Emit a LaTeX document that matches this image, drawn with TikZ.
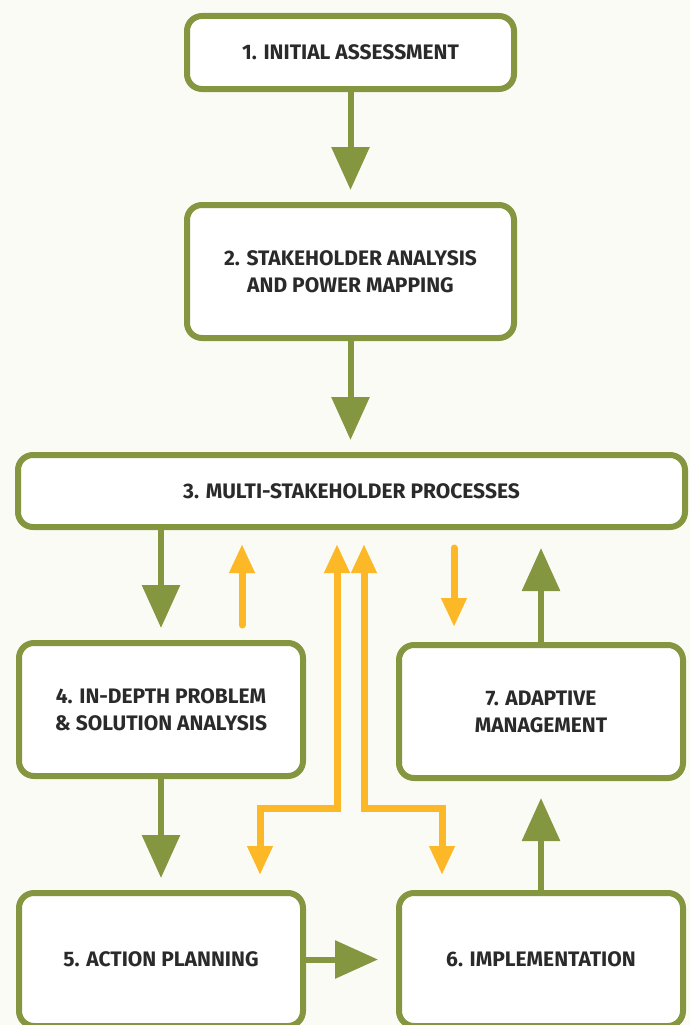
\documentclass[tikz,border=0pt]{standalone}
\usepackage{fontspec}
\setmainfont{Fira Sans}
\usepackage{tikz}
\usetikzlibrary{positioning,calc,arrows.meta}

\definecolor{leafgreen}{HTML}{84963F}
\definecolor{signyellow}{HTML}{FDB827}
\definecolor{paper}{HTML}{FBFBF5}
\definecolor{ink}{HTML}{2A2A2A}

\tikzset{
  stage/.style={draw=leafgreen,line width=6pt,fill=white,rounded corners=15pt,
    text=ink,font=\fontsize{21}{27}\selectfont\bfseries,align=center,inner sep=0pt},
  flow/.style={draw=leafgreen,line width=6pt,-{Triangle[length=43pt,width=37pt]}},
  feedback/.style={draw=signyellow,line width=7pt,line cap=round,-{Triangle[length=29pt,width=24pt]}},
  twoway/.style={draw=signyellow,line width=7pt,miter limit=10,{Triangle[length=29pt,width=24pt]}-{Triangle[length=29pt,width=24pt]}}
}

\begin{document}
\begin{tikzpicture}[x=1pt,y=-1pt]
% page
\fill[paper] (0,0) rectangle (690,1025);
\useasboundingbox (0,0) rectangle (690,1025);
\begin{scope}
\clip (0,0) rectangle (690,1025);
% nodes
\node[stage,minimum width=327pt,minimum height=73pt] (assess) at (350.5,52.5) {1. INITIAL ASSESSMENT};
\node[stage,minimum width=327pt,minimum height=133pt] (stake) [below =110pt of assess] {2. STAKEHOLDER ANALYSIS\\AND POWER MAPPING};
\node[stage,minimum width=667pt,minimum height=72pt] (multi) at (351.5,491) {3. MULTI-STAKEHOLDER PROCESSES};
\node[stage,minimum width=284pt,minimum height=133pt] (problem) at (161,709.5) {4. IN-DEPTH PROBLEM\\\& SOLUTION ANALYSIS};
\node[stage,minimum width=284pt,minimum height=133pt] (plan) [below =111pt of problem] {5. ACTION PLANNING};
\node[stage,minimum width=284pt,minimum height=133pt] (impl) [right =90pt of plan] {6. IMPLEMENTATION};
\node[stage,minimum width=284pt,minimum height=133pt] (adapt) [above =109pt of impl] {7. ADAPTIVE\\MANAGEMENT};
% free ends of the yellow arrows
\coordinate (fb1a) at (242,625);
\coordinate (fb1b) at (242,544);
\coordinate (fb2a) at (454,548);
\coordinate (fb2b) at (454,627);
\coordinate (twl) at (337,544);
\coordinate (twlb) at (260,875);
\coordinate (twr) at (364,544);
\coordinate (twrb) at (442,875);
% the arrows
\draw[flow,shorten >=12pt] (assess.south) -- (stake.north);
\draw[flow,shorten >=12pt] (stake.south) -- (stake.south |- multi.north);
\draw[flow,shorten >=12pt] (problem.north |- multi.south) -- (problem.north);
\draw[flow,shorten >=12pt] (problem.south) -- (plan.north);
\draw[flow,shorten >=18pt] (plan.east) -- (impl.west);
\draw[flow,shorten >=17pt] (impl.north) -- (adapt.south);
\draw[flow,shorten >=18pt] (adapt.north) -- (adapt.north |- multi.south);
\draw[feedback] (fb1a) -- (fb1b);
\draw[feedback] (fb2a) -- (fb2b);
\draw[twoway] (twl) -- (twl |- 0,808) -- (twlb |- 0,808) -- (twlb);
\draw[twoway] (twr) -- (twr |- 0,808) -- (twrb |- 0,808) -- (twrb);
\end{scope}
\end{tikzpicture}
\end{document}
